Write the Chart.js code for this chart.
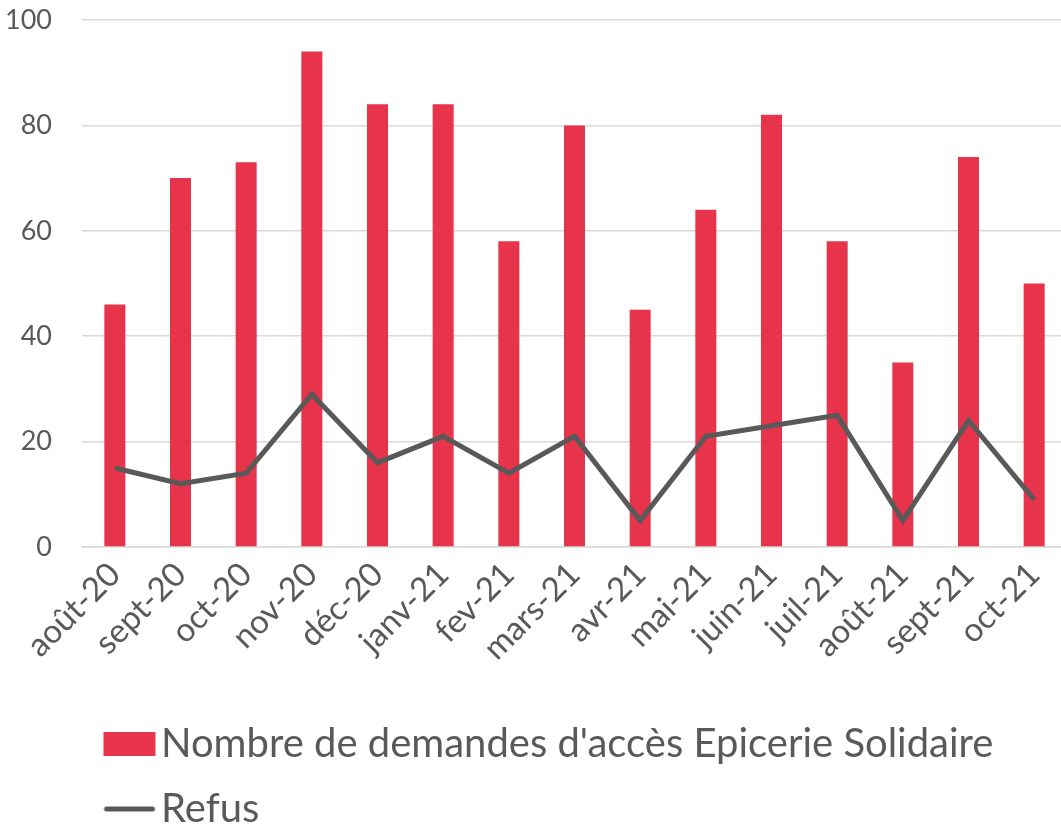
<!DOCTYPE html>
<html>
<head>
<meta charset="utf-8">
<script src="https://cdn.jsdelivr.net/npm/chart.js@4/dist/chart.umd.min.js"></script>
<style>
  html, body { margin: 0; padding: 0; background: #fff; }
</style>
</head>
<body>
<canvas id="myChart" width="1061" height="825"></canvas>
<script>
// donnees
const months = ['août-20', 'sept-20', 'oct-20', 'nov-20', 'déc-20', 'janv-21', 'fev-21',
  'mars-21', 'avr-21', 'mai-21', 'juin-21', 'juil-21', 'août-21', 'sept-21', 'oct-21']
const demandes = [46, 70, 73, 94, 84, 84, 58, 80, 45, 64, 82, 58, 35, 74, 50]
const refus = [15, 12, 14, 29, 16, 21, 14, 21, 5, 21, 23, 25, 5, 24, 9]
const yTicks = [0, 20, 40, 60, 80, 100]

const seriesNames = ["Nombre de demandes d'accès Epicerie Solidaire", 'Refus']
const barColor = '#E7344B'
const lineColor = '#595959'
const textColor = '#595959'
const fontFamily = 'Lato, "Open Sans", sans-serif'

// petit symbole de legende colle au texte (comme Excel)
function legendMarker(kind) {
  const c = document.createElement('canvas')
  c.width = 110
  c.height = 26
  const g = c.getContext('2d')
  const x0 = 43, w = 52
  if (kind === 'bar') {
    g.fillStyle = barColor
    g.fillRect(x0, 1, w, 24)
  } else {
    g.strokeStyle = lineColor
    g.lineWidth = 5
    g.lineCap = 'round'
    g.beginPath()
    g.moveTo(x0 + 3, 13)
    g.lineTo(x0 + w - 3, 13)
    g.stroke()
  }
  return c
}

// decale la legende et etire la zone du graphique un peu a droite
const layoutFix = {
  id: 'layoutFix',
  afterLayout(chart) {
    const area = chart.chartArea
    const x = chart.scales.x
    area.right += 6
    area.width += 6
    x.right += 6
    x.width += 6
    x.configure()
    chart.legend.left += 65
    chart.legend.top += 14
  }
}

const ctx = document.getElementById('myChart').getContext('2d')

new Chart(ctx, {
  data: {
    labels: months,
    datasets: [
      {
        type: 'line',
        label: seriesNames[1],
        data: refus,
        borderColor: lineColor,
        backgroundColor: lineColor,
        borderWidth: 5,
        pointRadius: 0,
        pointStyle: legendMarker('line'),
        tension: 0,
        order: 0
      },
      {
        type: 'bar',
        label: seriesNames[0],
        data: demandes,
        backgroundColor: barColor,
        borderWidth: 0,
        pointStyle: legendMarker('bar'),
        barPercentage: 0.32,
        categoryPercentage: 1,
        order: 1
      }
    ]
  },
  options: {
    responsive: false,
    animation: false,
    layout: { padding: { top: 20, right: 0, left: 0, bottom: 0 } },
    scales: {
      x: {
        grid: { display: false, drawTicks: false },
        border: { display: true, color: '#d9d9d9', width: 1.5 },
        ticks: {
          color: textColor,
          font: { family: fontFamily, size: 33 },
          minRotation: 45,
          maxRotation: 45,
          padding: 8
        },
        afterFit(scale) {
          scale.height = 138
          scale.paddingLeft = 0
          scale.paddingRight = 0
        }
      },
      y: {
        min: 0,
        max: 100,
        afterBuildTicks(scale) {
          scale.ticks = yTicks.map(v => ({ value: v }))
        },
        grid: { color: '#d9d9d9', lineWidth: 1.5, drawTicks: false },
        border: { display: false },
        ticks: {
          color: textColor,
          font: { family: fontFamily, size: 27 },
          padding: 30
        },
        afterFit(scale) {
          scale.width = 82
          scale.paddingTop = 0
          scale.paddingBottom = 0
        }
      }
    },
    plugins: {
      legend: {
        position: 'bottom',
        align: 'start',
        reverse: true,
        labels: {
          usePointStyle: true,
          pointStyleWidth: 51,
          boxHeight: 25,
          padding: 25,
          color: textColor,
          font: { family: fontFamily, size: 40 }
        }
      },
      tooltip: { enabled: false }
    }
  },
  plugins: [layoutFix]
})
</script>
</body>
</html>
